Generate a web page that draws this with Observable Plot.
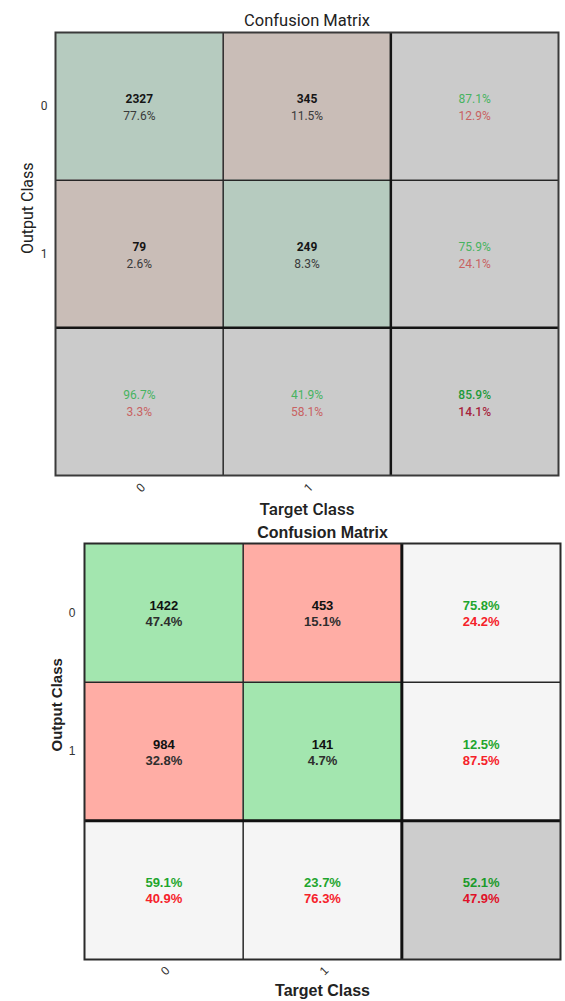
<!DOCTYPE html>
<html><head><meta charset="utf-8">
<script src="https://cdn.jsdelivr.net/npm/d3@7"></script>
<script src="https://cdn.jsdelivr.net/npm/@observablehq/plot@0.6"></script>
<style>body{margin:0;background:#fff} #wrap svg{display:block}</style>
</head><body><div id="wrap"></div>
<script>
const classes = ["0", "1"];
const titleText = "Confusion Matrix";
const xLabelText = "Target Class";
const yLabelText = "Output Class";

// Top matrix
const countsA = [[2327, 345], [79, 249]];
const cellPctA = [["77.6%", "11.5%"], ["2.6%", "8.3%"]];
const rowRateA = [["87.1%", "12.9%"], ["75.9%", "24.1%"]];
const colRateA = [["96.7%", "3.3%"], ["41.9%", "58.1%"]];
const totalRateA = ["85.9%", "14.1%"];

// Bottom matrix
const countsB = [[1422, 453], [984, 141]];
const cellPctB = [["47.4%", "15.1%"], ["32.8%", "4.7%"]];
const rowRateB = [["75.8%", "24.2%"], ["12.5%", "87.5%"]];
const colRateB = [["59.1%", "40.9%"], ["23.7%", "76.3%"]];
const totalRateB = ["52.1%", "47.9%"];

function buildCells(counts, cellPct, rowRate, colRate, totalRate) {
  const cells = [];
  for (let r = 0; r < 2; r++) {
    for (let c = 0; c < 2; c++) {
      cells.push({c, r, kind: r === c ? "diag" : "off", line1: String(counts[r][c]), line2: cellPct[r][c]});
    }
    cells.push({c: 2, r, kind: "margin", line1: rowRate[r][0], line2: rowRate[r][1]});
  }
  for (let c = 0; c < 2; c++) {
    cells.push({c, r: 2, kind: "margin", line1: colRate[c][0], line2: colRate[c][1]});
  }
  cells.push({c: 2, r: 2, kind: "corner", line1: totalRate[0], line2: totalRate[1]});
  return cells;
}

function makePlot(cells, t) {
  const countCells = cells.filter(d => d.kind === "diag" || d.kind === "off");
  const marginCells = cells.filter(d => d.kind === "margin");
  const cornerCells = cells.filter(d => d.kind === "corner");
  const cx = d => d.c + 0.5, cy = d => d.r + 0.5;
  const txt = (data, key, dy, fill, weight) => Plot.text(data, {
    x: cx, y: cy, text: key, dy, fill, fontWeight: weight, fontSize: t.cellFont, lineAnchor: "middle"
  });
  return Plot.plot({
    width: 565, height: t.height,
    marginLeft: t.ml, marginRight: t.mr, marginTop: t.mt, marginBottom: t.mb,
    style: {fontFamily: t.font, background: "#fff", color: "#333333"},
    x: {domain: [0, 3]},
    y: {domain: [0, 3], reverse: true},
    marks: [
      Plot.rect(cells, {x1: "c", x2: d => d.c + 1, y1: "r", y2: d => d.r + 1, fill: d => t.fill[d.kind]}),
      Plot.ruleX([1], {stroke: t.lineColor, strokeWidth: t.thin}),
      Plot.ruleY([1], {stroke: t.lineColor, strokeWidth: t.thin}),
      Plot.ruleX([2], {stroke: t.thickColor, strokeWidth: t.thick}),
      Plot.ruleY([2], {stroke: t.thickColor, strokeWidth: t.thick}),
      Plot.frame({stroke: t.frameColor, strokeWidth: t.frameWidth}),
      txt(countCells, "line1", t.dy1, t.countColor, "bold"),
      txt(countCells, "line2", t.dy2, t.pctColor, t.pctWeight),
      txt(marginCells, "line1", t.dy1, t.green, t.marginWeight),
      txt(marginCells, "line2", t.dy2, t.red, t.marginWeight),
      txt(cornerCells, "line1", t.dy1, t.cornerGreen, t.cornerWeight),
      txt(cornerCells, "line2", t.dy2, t.cornerRed, t.cornerWeight),
      Plot.axisX([0.5, 1.5], {
        tickFormat: d => classes[Math.floor(d)], tickSize: 0, tickRotate: -45,
        tickPadding: t.xTickPad, label: null, fontSize: t.tickFont, fill: "#333333", dx: t.xTickDx
      }),
      Plot.axisY([0.5, 1.5], {
        tickFormat: d => classes[Math.floor(d)], tickSize: 0,
        tickPadding: t.yTickPad, label: null, fontSize: t.tickFont, fill: "#333333"
      }),
      Plot.text([titleText], {
        frameAnchor: "top", lineAnchor: "middle", dy: t.titleDy, fontSize: t.titleFont, fontWeight: t.titleWeight,
        fill: "#222222", style: {letterSpacing: t.letterSpacing}
      }),
      Plot.text([xLabelText], {
        frameAnchor: "bottom", lineAnchor: "middle", dy: t.xLabelDy, fontSize: t.labelFont, fontWeight: t.labelWeight,
        fill: "#222222", style: {letterSpacing: t.labelSpacing}
      }),
      Plot.text([yLabelText], {
        frameAnchor: "left", lineAnchor: "middle", dx: t.yLabelDx, rotate: -90, fontSize: t.yLabelFont, fontWeight: t.yLabelWeight, fill: "#222222"
      })
    ]
  });
}

const themeA = {
  height: 520, ml: 55, mr: 7, mt: 32, mb: 45,
  font: "Roboto, 'Open Sans', sans-serif",
  fill: {diag: "#b6cbbf", off: "#c9bdb7", margin: "#cbcbcb", corner: "#cbcbcb"},
  lineColor: "#262626", thin: 1.5, thickColor: "#141414", thick: 2.5, frameColor: "#3a3a3a", frameWidth: 2,
  cellFont: 12, dy1: -7, dy2: 10,
  countColor: "#151515", pctColor: "#3a3a3a", pctWeight: "normal",
  green: "#47b360", red: "#c86262", marginWeight: "normal",
  cornerGreen: "#1f9a3a", cornerRed: "#a6243c", cornerWeight: 500,
  tickFont: 12, xTickPad: 10, xTickDx: 4, yTickPad: 8,
  titleDy: -12, titleFont: 16.5, titleWeight: "normal", letterSpacing: "1px",
  xLabelDy: 34, labelFont: 17, labelWeight: 500, labelSpacing: "0.3px",
  yLabelDx: -28, yLabelFont: 16, yLabelWeight: "normal"
};

const themeB = {
  height: 481, ml: 84, mr: 5, mt: 23, mb: 42,
  font: "'Liberation Sans', Arial, sans-serif",
  fill: {diag: "#a3e6af", off: "#ffada5", margin: "#f5f5f5", corner: "#cdcdcd"},
  lineColor: "#262626", thin: 1.5, thickColor: "#111111", thick: 3, frameColor: "#2a2a2a", frameWidth: 2,
  cellFont: 13, dy1: -7, dy2: 9,
  countColor: "#111111", pctColor: "#2e2e2e", pctWeight: "bold",
  green: "#1fa52e", red: "#f5222a", marginWeight: "bold",
  cornerGreen: "#1b9a2a", cornerRed: "#e01028", cornerWeight: "bold",
  tickFont: 12, xTickPad: 9, xTickDx: 4, yTickPad: 9,
  titleDy: -11, titleFont: 16, titleWeight: "bold", letterSpacing: "0px",
  xLabelDy: 31, labelFont: 16, labelWeight: "bold", labelSpacing: "0px",
  yLabelDx: -27, yLabelFont: 15, yLabelWeight: "bold"
};

const wrap = document.getElementById("wrap");
wrap.appendChild(makePlot(buildCells(countsA, cellPctA, rowRateA, colRateA, totalRateA), themeA));
wrap.appendChild(makePlot(buildCells(countsB, cellPctB, rowRateB, colRateB, totalRateB), themeB));
</script>
</body></html>
